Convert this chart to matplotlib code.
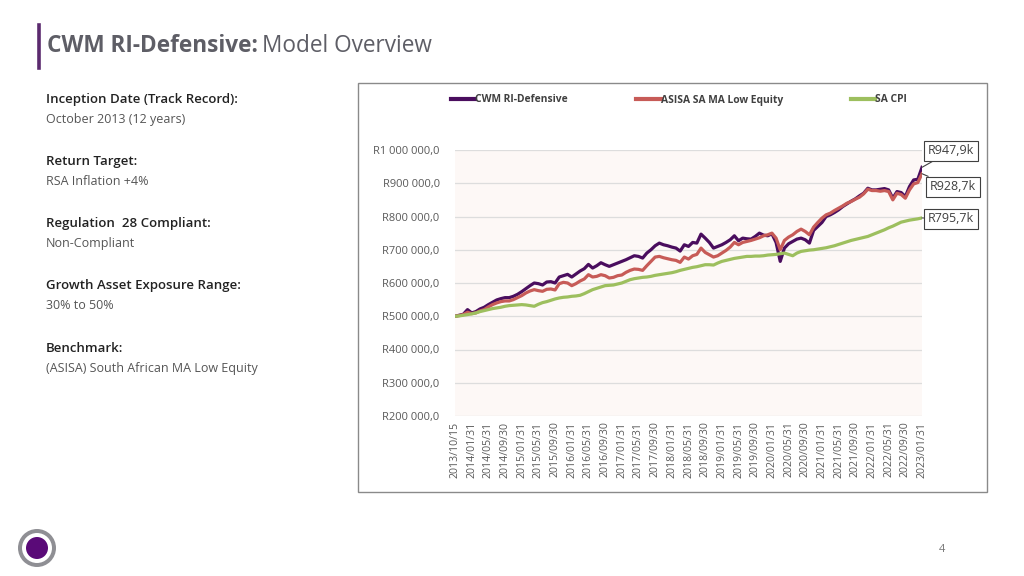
import matplotlib
matplotlib.use('Agg')
import matplotlib.pyplot as plt
import matplotlib.patches as patches
from matplotlib.ticker import FuncFormatter, MultipleLocator
import pandas as pd

plt.rcParams['font.family'] = ['Open Sans', 'DejaVu Sans']

# month-end dates, first point is the inception date
dates = ['2013/10/15'] + [d.strftime('%Y/%m/%d') for d in
                          pd.date_range('2013-10-31', periods=112, freq=pd.offsets.MonthEnd())]

# values in R thousands
cwm = [500, 503, 506, 520, 510, 514, 522, 527, 535, 542,
       549, 553, 556, 556, 560, 566, 574, 583, 592, 600,
       598, 594, 603, 604, 600, 618, 622, 626, 618, 627,
       636, 643, 656, 645, 652, 661, 655, 650, 655, 660,
       665, 670, 676, 682, 680, 675, 690, 700, 712, 720,
       715, 712, 708, 705, 696, 715, 710, 722, 720, 747,
       735, 722, 705, 710, 715, 722, 730, 742, 727, 735,
       733, 732, 740, 750, 744, 742, 748, 722, 665, 705,
       718, 725, 732, 735, 730, 720, 758, 770, 782, 800,
       805, 812, 820, 830, 838, 846, 853, 862, 870, 885,
       880, 880, 882, 884, 880, 855, 875, 872, 860, 890,
       910, 912, 947.9]

asisa = [500, 502, 505, 512, 508, 510, 516, 520, 528, 535,
         540, 544, 546, 546, 550, 556, 562, 570, 576, 580,
         577, 575, 581, 582, 579, 598, 602, 600, 592, 598,
         606, 612, 625, 618, 620, 625, 622, 615, 617, 622,
         624, 632, 638, 642, 641, 638, 652, 665, 678, 680,
         676, 673, 670, 668, 662, 678, 672, 682, 686, 705,
         692, 685, 678, 682, 690, 698, 708, 722, 715, 722,
         725, 728, 732, 736, 742, 745, 750, 735, 700, 728,
         738, 745, 755, 762, 755, 745, 768, 782, 795, 805,
         810, 818, 825, 832, 840, 845, 852, 858, 868, 882,
         878, 878, 876, 878, 875, 850, 870, 866, 855, 880,
         898, 902, 928.7]

cpi = [500, 501, 503, 505, 507, 510, 514, 517, 520, 523,
       525, 527, 530, 532, 533, 534, 535, 534, 532, 530,
       536, 541, 544, 548, 552, 555, 557, 558, 560, 561,
       563, 568, 574, 580, 584, 588, 592, 593, 594, 597,
       600, 605, 610, 613, 615, 617, 618, 620, 623, 625,
       627, 629, 631, 634, 638, 641, 644, 647, 649, 652,
       655, 655, 654, 660, 665, 668, 671, 674, 676, 678,
       680, 680, 681, 681, 682, 684, 685, 686, 688, 690,
       686, 682, 690, 695, 697, 699, 700, 702, 704, 706,
       709, 712, 716, 720, 724, 728, 731, 734, 737, 740,
       745, 750, 755, 760, 766, 771, 777, 783, 786, 789,
       791, 793, 795.7]

series_names = ['CWM RI-Defensive', 'ASISA SA MA Low Equity', 'SA CPI']
colors = ['#4A0D5E', '#C75B57', '#9DBF5E']

info = [('Inception Date (Track Record):', 'October 2013 (12 years)'),
        ('Return Target:', 'RSA Inflation +4%'),
        ('Regulation  28 Compliant:', 'Non-Compliant'),
        ('Growth Asset Exposure Range:', '30% to 50%'),
        ('Benchmark:', '(ASISA) South African MA Low Equity')]

W, H = 1024, 576


def fx(x):
    return x / W


def fy(y):
    return 1 - y / H


fig = plt.figure(figsize=(10.24, 5.76), dpi=100)
fig.patch.set_facecolor('white')

# title
fig.add_artist(plt.Line2D([fx(38.5), fx(38.5)], [fy(25), fy(68)], color='#5B2A6E', lw=2.6))
t1 = fig.text(fx(47), fy(46), 'CWM RI-Defensive:', fontsize=16.3, fontweight='bold',
              color='#5E5E66', va='center', ha='left')
fig.canvas.draw()
bb = t1.get_window_extent(renderer=fig.canvas.get_renderer())
fig.text(bb.x1 / W + 0.004, fy(46), 'Model Overview', fontsize=16.3, color='#5E5E66',
         va='center', ha='left')

# left info block
for i, (head, val) in enumerate(info):
    y0 = 99 + i * 62.3
    fig.text(fx(46), fy(y0), head, fontsize=9.5, fontweight='semibold', color='#222222',
             va='center', ha='left')
    fig.text(fx(46), fy(y0 + 20), val, fontsize=9, color='#555555', va='center', ha='left')

# chart frame
fig.add_artist(patches.Rectangle((fx(358), fy(492)), fx(987) - fx(358), fy(83) - fy(492),
                                 transform=fig.transFigure, fill=False, ec='#8A8A8A', lw=1.0))

ax = fig.add_axes([fx(455), fy(416), fx(922) - fx(455), fy(150) - fy(416)])
ax.set_facecolor('#FDF8F6')
x = list(range(len(dates)))
for vals, name, c in zip([cwm, asisa, cpi], series_names, colors):
    ax.plot(x, vals, color=c, lw=2.3, label=name, solid_joinstyle='round')

ax.set_xlim(0, len(dates) - 1)
ax.set_ylim(200, 1000)
ax.yaxis.set_major_locator(MultipleLocator(100))


def rand(v, pos):
    return 'R' + f'{v * 1000:,.1f}'.replace(',', ' ').replace('.', ',')


ax.yaxis.set_major_formatter(FuncFormatter(rand))
ax.set_xticks(x[::4])
ax.set_xticklabels(dates[::4], rotation=90)
ax.tick_params(axis='x', labelsize=7.6, colors='#595959', length=0, pad=4)
ax.tick_params(axis='y', labelsize=8, colors='#595959', length=0, pad=11)
ax.grid(axis='y', color='#DDDDDD', lw=0.9)
ax.set_axisbelow(True)
for s in ax.spines.values():
    s.set_visible(False)

leg = fig.legend(loc='center', bbox_to_anchor=(fx(679), fy(100)), ncol=3, frameon=False,
                 handlelength=2.4, handletextpad=0.0, columnspacing=6.6,
                 prop={'size': 7.4, 'weight': 'bold'})
for txt in leg.get_texts():
    txt.set_color('#404040')
for ln in leg.get_lines():
    ln.set_linewidth(3)

# end-value callouts
ends = [(cwm[-1], 951, 151), (asisa[-1], 953, 187), (cpi[-1], 951, 219)]
for v, bx, by in ends:
    lab = 'R' + f'{v:.1f}'.replace('.', ',') + 'k'
    ax.annotate(lab, xy=(x[-1], v), xytext=(bx, H - by), textcoords='figure pixels',
                ha='center', va='center', fontsize=9, color='#404040', annotation_clip=False,
                bbox=dict(boxstyle='square,pad=0.3', fc='white', ec='#404040', lw=0.8),
                arrowprops=dict(arrowstyle='-', color='#404040', lw=0.8, shrinkA=0, shrinkB=0))

# page number and logo
fig.text(fx(942), fy(549), '4', fontsize=8, color='#777777', ha='center', va='center')
lx, ly = fx(37), fy(548)
fig.add_artist(patches.Ellipse((lx, ly), 38 / W, 38 / H, transform=fig.transFigure,
                               fc='#8F8F94', ec='none'))
fig.add_artist(patches.Ellipse((lx, ly), 30 / W, 30 / H, transform=fig.transFigure,
                               fc='white', ec='none'))
fig.add_artist(patches.Ellipse((lx, ly), 22 / W, 22 / H, transform=fig.transFigure,
                               fc='#5A0A78', ec='none'))

fig.savefig('out.png', dpi=100)
